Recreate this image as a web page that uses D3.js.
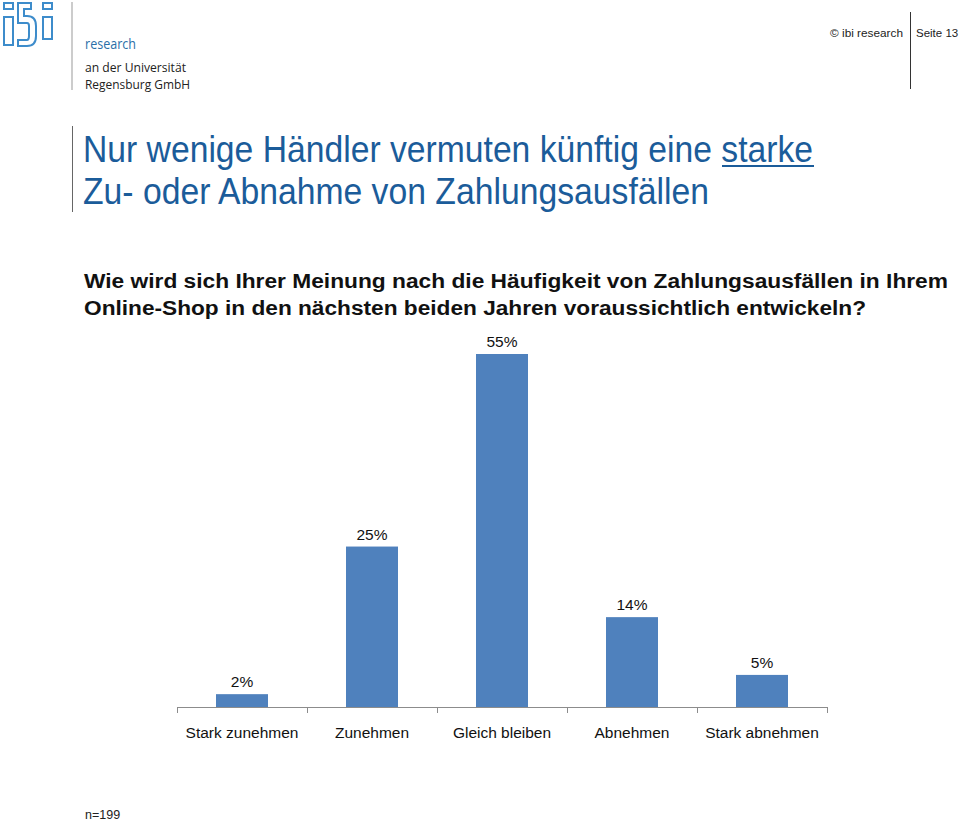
<!DOCTYPE html>
<html>
<head>
<meta charset="utf-8">
<script src="https://cdn.jsdelivr.net/npm/d3@7/dist/d3.min.js"></script>
<style>
  html, body { margin: 0; padding: 0; background: #fff; }
  svg { display: block; }
</style>
</head>
<body>
<script>
const categories = ["Stark zunehmen", "Zunehmen", "Gleich bleiben", "Abnehmen", "Stark abnehmen"];
const values = [2, 25, 55, 14, 5];
const valueLabels = ["2%", "25%", "55%", "14%", "5%"];
const titleLines = ["Nur wenige Händler vermuten künftig eine starke", "Zu- oder Abnahme von Zahlungsausfällen"];
const questionLines = ["Wie wird sich Ihrer Meinung nach die Häufigkeit von Zahlungsausfällen in Ihrem",
                       "Online-Shop in den nächsten beiden Jahren voraussichtlich entwickeln?"];
const sampleNote = "n=199";

const W = 960, H = 821;
const svg = d3.select("body").append("svg").attr("width", W).attr("height", H);

const blue = "#1b5c9a";
const logoBlue = "#3d8ccb";
const sans = "'Liberation Sans', Arial, Helvetica, sans-serif";
const narrow = "'Liberation Sans Narrow', 'Liberation Sans', Arial, sans-serif";
const logoFont = "'Open Sans', 'Noto Sans', sans-serif";

// ---- Logo ----
const logo = svg.append("g").attr("fill", "none").attr("stroke", logoBlue).attr("stroke-width", 2);
logo.append("rect").attr("x", 4).attr("y", 3).attr("width", 9).attr("height", 6);
logo.append("rect").attr("x", 4).attr("y", 17).attr("width", 9).attr("height", 28);
logo.append("path").attr("d", "M18,3 H31 V9 H24 V16 H27 Q36,16 36,26 V36 Q36,46 27,46 H18 V40 H27 Q29,40 29,36 V26 Q29,23 27,23 H18 Z");
logo.append("rect").attr("x", 43).attr("y", 3).attr("width", 9).attr("height", 6);
logo.append("rect").attr("x", 43).attr("y", 17).attr("width", 9).attr("height", 22);
svg.append("line").attr("x1", 72).attr("x2", 72).attr("y1", 2).attr("y2", 90)
  .attr("stroke", "#999").attr("stroke-width", 1);
svg.append("text").attr("x", 85).attr("y", 49).text("research")
  .attr("font-family", logoFont).attr("font-size", 14.5).attr("fill", "#2a6fa8")
  .attr("textLength", 51).attr("lengthAdjust", "spacingAndGlyphs");
svg.append("text").attr("x", 85).attr("y", 72).text("an der Universität")
  .attr("font-family", logoFont).attr("font-size", 13).attr("fill", "#222")
  .attr("textLength", 101).attr("lengthAdjust", "spacingAndGlyphs");
svg.append("text").attr("x", 85).attr("y", 89).text("Regensburg GmbH")
  .attr("font-family", logoFont).attr("font-size", 13).attr("fill", "#222")
  .attr("textLength", 105).attr("lengthAdjust", "spacingAndGlyphs");

// ---- Top right ----
svg.append("text").attr("x", 903).attr("y", 37).attr("text-anchor", "end").text("© ibi research")
  .attr("font-family", sans).attr("font-size", 11.8).attr("fill", "#222");
svg.append("line").attr("x1", 910.5).attr("x2", 910.5).attr("y1", 12).attr("y2", 89)
  .attr("stroke", "#333").attr("stroke-width", 1);
svg.append("text").attr("x", 916).attr("y", 37).text("Seite 13")
  .attr("font-family", sans).attr("font-size", 11.5).attr("fill", "#222");

// ---- Title ----
svg.append("line").attr("x1", 72.5).attr("x2", 72.5).attr("y1", 126).attr("y2", 212)
  .attr("stroke", "#666").attr("stroke-width", 1);
svg.append("text").attr("x", 83).attr("y", 162).text(titleLines[0])
  .attr("font-family", narrow).attr("font-size", 37).attr("fill", blue)
  .attr("textLength", 730).attr("lengthAdjust", "spacingAndGlyphs");
svg.append("text").attr("x", 83).attr("y", 204).text(titleLines[1])
  .attr("font-family", narrow).attr("font-size", 37).attr("fill", blue)
  .attr("textLength", 626).attr("lengthAdjust", "spacingAndGlyphs");
// underline under "starke"
svg.append("line").attr("x1", 722).attr("x2", 814).attr("y1", 166).attr("y2", 166)
  .attr("stroke", blue).attr("stroke-width", 2);

// ---- Question ----
svg.append("text").attr("x", 84).attr("y", 288).text(questionLines[0])
  .attr("font-family", sans).attr("font-weight", "bold").attr("font-size", 20).attr("fill", "#111")
  .attr("textLength", 864).attr("lengthAdjust", "spacingAndGlyphs");
svg.append("text").attr("x", 84).attr("y", 315).text(questionLines[1])
  .attr("font-family", sans).attr("font-weight", "bold").attr("font-size", 20).attr("fill", "#111")
  .attr("textLength", 782).attr("lengthAdjust", "spacingAndGlyphs");

// ---- Chart ----
const x = d3.scaleBand().domain(categories).range([177, 827]).paddingInner(0.6).paddingOuter(0.3);
const y = d3.scaleLinear().domain([0, 55]).range([707, 354]);
const data = categories.map((c, i) => ({ c, v: values[i], l: valueLabels[i] }));

svg.append("g").selectAll("rect").data(data).join("rect")
  .attr("x", d => x(d.c)).attr("width", x.bandwidth())
  .attr("y", d => y(d.v)).attr("height", d => y(0) - y(d.v))
  .attr("fill", "#4f81bd");

svg.append("g").selectAll("text").data(data).join("text")
  .attr("x", d => x(d.c) + x.bandwidth() / 2).attr("y", d => y(d.v) - 7)
  .attr("text-anchor", "middle").text(d => d.l)
  .attr("font-family", sans).attr("font-size", 15.5).attr("fill", "#111");

// axis
const step = x.step();
const boundaries = d3.range(categories.length + 1).map(i => 177 + i * step);
const ax = svg.append("g").attr("stroke", "#8c8c8c").attr("stroke-width", 1);
ax.append("line").attr("x1", 177).attr("x2", 827).attr("y1", y(0) + 0.5).attr("y2", y(0) + 0.5);
ax.selectAll("line.tick").data(boundaries).join("line").attr("class", "tick")
  .attr("x1", d => Math.round(d) + 0.5).attr("x2", d => Math.round(d) + 0.5)
  .attr("y1", y(0)).attr("y2", y(0) + 6);

svg.append("g").selectAll("text").data(categories).join("text")
  .attr("x", d => x(d) + x.bandwidth() / 2).attr("y", 738)
  .attr("text-anchor", "middle").text(d => d)
  .attr("font-family", sans).attr("font-size", 15.5).attr("fill", "#111");

svg.append("text").attr("x", 85).attr("y", 819).text(sampleNote)
  .attr("font-family", sans).attr("font-size", 12.5).attr("fill", "#222");
</script>
</body>
</html>
